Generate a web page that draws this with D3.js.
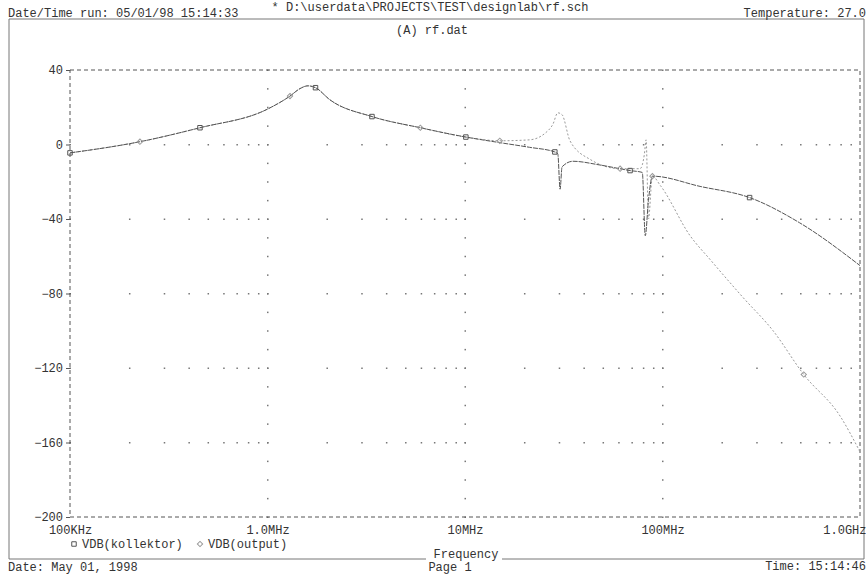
<!DOCTYPE html>
<html>
<head>
<meta charset="utf-8">
<script src="https://cdn.jsdelivr.net/npm/d3@7"></script>
<style>
 body { margin: 0; background: #fff; }
 text { font-family: "Liberation Mono", "DejaVu Sans Mono", monospace; font-size: 12px; fill: #333; }
</style>
</head>
<body>
<svg width="866" height="576"></svg>
<script>
// frequencies in MHz, values in dB
var kolFreq = [0.1, 0.226, 0.455, 1.0, 1.30, 1.46, 1.60, 1.75, 2.07, 3.38, 5.94, 10.1, 15.0, 21.2, 28.5, 29.5, 30.3, 31.0, 35.2, 48.2, 68.5, 79, 81.8, 84.9, 88.9, 155, 276, 494, 1000];
var kolDb   = [-4.5, 1.5, 9, 19, 26, 30, 31.5, 30.5, 24, 15, 9, 4, 1, -1.5, -4, -5, -24, -12, -9, -11, -14, -15, -49, -30, -17, -22.5, -28.5, -42, -65];
var outFreq = [0.1, 0.226, 0.455, 1.0, 1.30, 1.46, 1.60, 1.75, 2.07, 3.38, 5.94, 10.1, 15.0, 21.2, 25.4, 27.9, 29.5, 31.0, 34.0, 43.0, 61.0, 77.0, 81, 82.6, 84.9, 88.9, 97.5, 138, 175, 255, 363, 519, 795, 1000];
var outDb   = [-4.5, 1.5, 9, 19, 26, 30, 31.5, 30.5, 24, 15, 9, 4, 2, 2.5, 6, 11, 17, 16, 2, -8, -13, -13, -5, 2.5, -40, -17, -22, -49, -62, -82, -100, -123.5, -146, -165];
// indices that carry a marker
var kolMarks = [0, 2, 7, 9, 11, 14, 20, 26];
var outMarks = [1, 4, 10, 12, 20, 25, 31];

var yTicks = [40, 0, -40, -80, -120, -160, -200];
var xTicks = [0.1, 1, 10, 100, 1000];
var xLabels = ["100KHz", "1.0MHz", "10MHz", "100MHz", "1.0GHz"];

var svg = d3.select("svg");
var x = d3.scaleLog().domain([0.1, 1000]).range([70, 860]);
var y = d3.scaleLinear().domain([-200, 40]).range([517, 70]);

// page frame
svg.append("path")
   .attr("d", "M9,19H864V559H9Z")
   .attr("fill", "none").attr("stroke", "#777").attr("stroke-width", 1);

// header / footer text
svg.append("text").attr("x", 430).attr("y", 11).attr("text-anchor", "middle")
   .text("* D:\\userdata\\PROJECTS\\TEST\\designlab\\rf.sch");
svg.append("text").attr("x", 8).attr("y", 17).text("Date/Time run: 05/01/98 15:14:33");
svg.append("text").attr("x", 866).attr("y", 17).attr("text-anchor", "end").text("Temperature: 27.0");
svg.append("text").attr("x", 432).attr("y", 34).attr("text-anchor", "middle").text("(A) rf.dat");
svg.append("rect").attr("x", 426).attr("y", 550).attr("width", 76).attr("height", 12).attr("fill", "#fff");
svg.append("text").attr("x", 466).attr("y", 558).attr("text-anchor", "middle").text("Frequency");
svg.append("text").attr("x", 8).attr("y", 571).text("Date: May 01, 1998");
svg.append("text").attr("x", 450).attr("y", 571).attr("text-anchor", "middle").text("Page 1");
svg.append("text").attr("x", 866).attr("y", 570).attr("text-anchor", "end").text("Time: 15:14:46");

// grid: dotted rows at each y tick with log minor dots
var minorF = [];
for (var d = 0.1; d < 1000; d *= 10) {
  for (var k = 1; k < 10; k++) minorF.push(d * k);
}
var rows = yTicks.slice(1, -1);
rows.forEach(function(v) {
  svg.selectAll(null).data(minorF).enter().append("rect")
     .attr("x", function(f) { return x(f) - 0.5; })
     .attr("y", y(v) - 0.5)
     .attr("width", 1.5).attr("height", 1.5)
     .attr("fill", "#777");
});
var minorDb = d3.range(-200, 41, 10);
xTicks.slice(1, -1).forEach(function(f) {
  svg.selectAll(null).data(minorDb).enter().append("rect")
     .attr("x", x(f) - 0.5)
     .attr("y", function(v) { return y(v) - 0.5; })
     .attr("width", 1.5).attr("height", 1.5)
     .attr("fill", "#777");
});

// dashed plot border
svg.append("rect")
   .attr("x", x(0.1)).attr("y", y(40))
   .attr("width", x(1000) - x(0.1)).attr("height", y(-200) - y(40))
   .attr("fill", "none").attr("stroke", "#555").attr("stroke-dasharray", "4,3");

// y axis labels and ticks
var yAxis = d3.axisLeft(y).tickValues(yTicks).tickSize(4).tickPadding(3);
var gy = svg.append("g").attr("transform", "translate(" + x(0.1) + ",0)").call(yAxis);
gy.select(".domain").remove();
gy.selectAll("line").attr("stroke", "#555");
gy.selectAll("text").style("font-family", "Liberation Mono").style("font-size", "12px").attr("fill", "#333");

// x axis labels
var xAxis = d3.axisBottom(x).tickValues(xTicks).tickSize(0).tickPadding(8)
    .tickFormat(function(d, i) { return xLabels[i]; });
var gx = svg.append("g").attr("transform", "translate(0," + y(-200) + ")").call(xAxis);
gx.select(".domain").remove();
gx.selectAll("text").style("font-family", "Liberation Mono").style("font-size", "12px").attr("fill", "#333")
  .attr("text-anchor", function(d, i) { return i == xTicks.length - 1 ? "end" : "middle"; })
  .attr("dx", function(d, i) { return i == xTicks.length - 1 ? "6" : "0"; });

// curves
var line = d3.line()
    .x(function(d) { return x(d[0]); })
    .y(function(d) { return y(d[1]); })
    .curve(d3.curveMonotoneX);
var kol = d3.zip(kolFreq, kolDb);
var out = d3.zip(outFreq, outDb);

svg.append("path").datum(out).attr("d", line)
   .attr("fill", "none").attr("stroke", "#999").attr("stroke-width", 1)
   .attr("stroke-dasharray", "2,2");
svg.append("path").datum(kol).attr("d", line)
   .attr("fill", "none").attr("stroke", "#555").attr("stroke-width", 1)
   .attr("stroke-dasharray", "5,1");

// markers
svg.selectAll(".km").data(kolMarks).enter().append("path")
   .attr("class", "km")
   .attr("transform", function(i) { return "translate(" + x(kolFreq[i]) + "," + y(kolDb[i]) + ")"; })
   .attr("d", d3.symbol().type(d3.symbolSquare).size(20))
   .attr("fill", "none").attr("stroke", "#555");
svg.selectAll(".om").data(outMarks).enter().append("path")
   .attr("class", "om")
   .attr("transform", function(i) { return "translate(" + x(outFreq[i]) + "," + y(outDb[i]) + ") rotate(45)"; })
   .attr("d", d3.symbol().type(d3.symbolSquare).size(14))
   .attr("fill", "none").attr("stroke", "#999");

// legend
svg.append("path").attr("transform", "translate(74,544)")
   .attr("d", d3.symbol().type(d3.symbolSquare).size(20))
   .attr("fill", "none").attr("stroke", "#555");
svg.append("text").attr("x", 82).attr("y", 548).text("VDB(kollektor)");
svg.append("path").attr("transform", "translate(200,544) rotate(45)")
   .attr("d", d3.symbol().type(d3.symbolSquare).size(14))
   .attr("fill", "none").attr("stroke", "#999");
svg.append("text").attr("x", 208).attr("y", 548).text("VDB(output)");
</script>
</body>
</html>
